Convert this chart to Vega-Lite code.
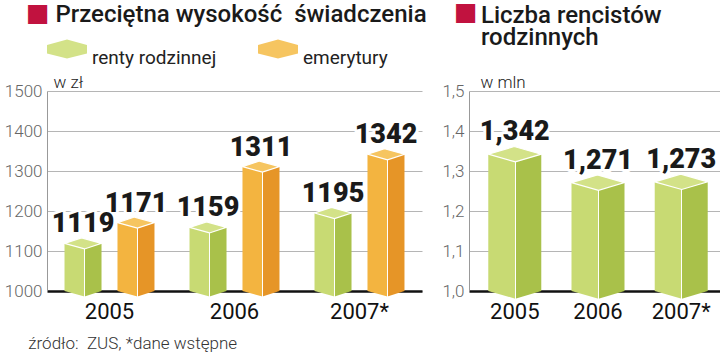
{
  "$schema": "https://vega.github.io/schema/vega-lite/v6.json",
  "padding": {"left": 4, "top": 0, "right": 0, "bottom": 0},
  "background": "white",
  "config": {
    "locale": {"number": {"decimal": ",", "thousands": "\u00a0", "grouping": [3], "currency": ["", " zł"]}},
    "view": {"stroke": null},
    "font": "Roboto",
    "concat": {"spacing": 14}
  },
  "datasets": {
    "kwoty": [
      {"rok": "2005", "seria": "renty rodzinnej", "wartosc": 1119},
      {"rok": "2005", "seria": "emerytury", "wartosc": 1171},
      {"rok": "2006", "seria": "renty rodzinnej", "wartosc": 1159},
      {"rok": "2006", "seria": "emerytury", "wartosc": 1311},
      {"rok": "2007*", "seria": "renty rodzinnej", "wartosc": 1195},
      {"rok": "2007*", "seria": "emerytury", "wartosc": 1342}
    ],
    "liczba": [
      {"rok": "2005", "wartosc": 1.342},
      {"rok": "2006", "wartosc": 1.271},
      {"rok": "2007*", "wartosc": 1.273}
    ]
  },
  "title": {
    "text": "źródło:\u00a0 ZUS, *dane wstępne",
    "orient": "bottom",
    "anchor": "start",
    "frame": "bounds",
    "dx": 24,
    "offset": 14,
    "fontSize": 17,
    "fontWeight": 300,
    "font": "Roboto",
    "color": "#333"
  },
  "hconcat": [
    {
      "width": 375,
      "height": 200,
      "data": {"name": "kwoty"},
      "title": {
        "text": "\u200b\u2003\u2009Przeciętna wysokość\u00a0 świadczenia",
        "subtitle": "■",
        "anchor": "start",
        "frame": "group",
        "dx": -21,
        "offset": 44,
        "font": "Roboto",
        "fontSize": 24,
        "fontWeight": 500,
        "color": "#1a1a1a",
        "subtitleFont": "DejaVu Sans",
        "subtitleFontSize": 25,
        "subtitleColor": "#c1123f",
        "subtitlePadding": -26
      },
      "encoding": {
        "x": {
          "field": "rok", "type": "nominal",
          "scale": {"domain": ["2005", "2006", "2007*"], "paddingInner": 0, "paddingOuter": 0},
          "axis": {"title": null, "labelAngle": 0, "labelFont": "Roboto", "labelFontSize": 22, "labelColor": "#111", "labelPadding": 10, "ticks": false, "domainColor": "#111", "domainWidth": 2.5}
        },
        "xOffset": {
          "field": "seria", "type": "nominal",
          "scale": {"domain": ["renty rodzinnej", "emerytury"], "paddingInner": 0, "paddingOuter": 0.18}
        },
        "y": {
          "field": "wartosc", "type": "quantitative",
          "scale": {"domain": [1000, 1500], "zero": false, "nice": false},
          "axis": {"title": "w zł", "titleAngle": 0, "titleAlign": "left", "titleBaseline": "alphabetic", "titleX": 6, "titleY": -4, "titleFont": "Roboto", "titleFontSize": 17, "titleFontWeight": 300, "titleColor": "#222", "values": [1000, 1100, 1200, 1300, 1400, 1500], "format": "d", "labelFont": "Roboto", "labelFontSize": 17, "labelFontWeight": 300, "labelColor": "#666", "labelPadding": 5, "ticks": false, "domainColor": "#999", "gridColor": "#b5b5b5", "gridWidth": 1}
        }
      },
      "layer": [
        {
          "transform": [{"filter": "datum.seria === 'renty rodzinnej'"}],
          "mark": {"type": "bar", "width": 37, "fill": {"gradient": "linear", "stops": [{"offset": 0, "color": "#c8da73"}, {"offset": 0.535, "color": "#c8da73"}, {"offset": 0.535, "color": "#ffffff"}, {"offset": 0.565, "color": "#ffffff"}, {"offset": 0.565, "color": "#a9c14a"}, {"offset": 1, "color": "#a9c14a"}]}},
          "encoding": {"y2": {"datum": 1000}}
        },
        {
          "transform": [{"filter": "datum.seria === 'emerytury'"}],
          "mark": {"type": "bar", "width": 37, "fill": {"gradient": "linear", "stops": [{"offset": 0, "color": "#f3b440"}, {"offset": 0.535, "color": "#f3b440"}, {"offset": 0.535, "color": "#ffffff"}, {"offset": 0.565, "color": "#ffffff"}, {"offset": 0.565, "color": "#e69527"}, {"offset": 1, "color": "#e69527"}]}},
          "encoding": {"y2": {"datum": 1000}}
        },
        {
          "transform": [{"filter": "datum.seria === 'renty rodzinnej'"}],
          "mark": {"type": "point", "shape": "M-1,0L0.08,0.3L1,0L-0.08,-0.3Z", "size": 1369, "filled": true, "opacity": 1, "strokeWidth": 0, "fill": {"gradient": "linear", "stops": [{"offset": 0, "color": "#c8da73"}, {"offset": 0.535, "color": "#c8da73"}, {"offset": 0.535, "color": "#ffffff"}, {"offset": 0.565, "color": "#ffffff"}, {"offset": 0.565, "color": "#a9c14a"}, {"offset": 1, "color": "#a9c14a"}]}},
          "encoding": {"y": {"datum": 1000}}
        },
        {
          "transform": [{"filter": "datum.seria === 'emerytury'"}],
          "mark": {"type": "point", "shape": "M-1,0L0.08,0.3L1,0L-0.08,-0.3Z", "size": 1369, "filled": true, "opacity": 1, "strokeWidth": 0, "fill": {"gradient": "linear", "stops": [{"offset": 0, "color": "#f3b440"}, {"offset": 0.535, "color": "#f3b440"}, {"offset": 0.535, "color": "#ffffff"}, {"offset": 0.565, "color": "#ffffff"}, {"offset": 0.565, "color": "#e69527"}, {"offset": 1, "color": "#e69527"}]}},
          "encoding": {"y": {"datum": 1000}}
        },
        {
          "mark": {"type": "point", "shape": "M-1,0L0.08,0.3L1,0L-0.08,-0.3Z", "size": 1369, "filled": true, "opacity": 1, "stroke": "white", "strokeWidth": 1.2},
          "encoding": {
            "color": {
              "field": "seria", "type": "nominal",
              "scale": {"domain": ["renty rodzinnej", "emerytury"], "range": ["#d3e288", "#f6c560"]},
              "legend": {"title": null, "orient": "none", "legendX": 0, "legendY": -62, "direction": "horizontal", "symbolType": "M-1,-0.2L0,-0.47L1,-0.2L1,0.22L0,0.47L-1,0.22Z", "symbolSize": 1600, "symbolStrokeWidth": 0, "symbolOpacity": 1, "labelFont": "Roboto", "labelFontSize": 19, "labelColor": "#222", "labelBaseline": "top", "columnPadding": 41, "labelOffset": 5, "padding": 0}
            }
          }
        },
        {
          "mark": {"type": "text", "dy": -11, "baseline": "alphabetic", "font": "Roboto", "fontSize": 27, "fontWeight": 900, "fill": "white", "stroke": "white", "strokeWidth": 6, "strokeJoin": "round"},
          "encoding": {"text": {"field": "wartosc", "type": "quantitative", "format": "d"}}
        },
        {
          "mark": {"type": "text", "dy": -11, "baseline": "alphabetic", "font": "Roboto", "fontSize": 27, "fontWeight": 900, "fill": "#1a1a1a"},
          "encoding": {"text": {"field": "wartosc", "type": "quantitative", "format": "d"}}
        }
      ]
    },
    {
      "width": 258,
      "height": 200,
      "data": {"name": "liczba"},
      "title": {
        "text": ["\u200b\u2003\u200aLiczba rencistów", "\u200b\u2003\u200arodzinnych"],
        "subtitle": "■",
        "anchor": "start",
        "frame": "group",
        "dx": -15,
        "offset": 19,
        "font": "Roboto",
        "fontSize": 24,
        "lineHeight": 22,
        "fontWeight": 500,
        "color": "#1a1a1a",
        "subtitleFont": "DejaVu Sans",
        "subtitleFontSize": 25,
        "subtitleColor": "#c1123f",
        "subtitlePadding": -50
      },
      "encoding": {
        "x": {
          "field": "rok", "type": "nominal",
          "scale": {"domain": ["2005", "2006", "2007*"], "paddingInner": 0, "paddingOuter": 0.05},
          "axis": {"title": null, "labelAngle": 0, "labelFont": "Roboto", "labelFontSize": 22, "labelColor": "#111", "labelPadding": 10, "ticks": false, "domainColor": "#111", "domainWidth": 2.5}
        },
        "y": {
          "field": "wartosc", "type": "quantitative",
          "scale": {"domain": [1, 1.5], "zero": false, "nice": false},
          "axis": {"title": "w mln", "titleAngle": 0, "titleAlign": "left", "titleBaseline": "alphabetic", "titleX": 11, "titleY": -4, "titleFont": "Roboto", "titleFontSize": 17, "titleFontWeight": 300, "titleColor": "#222", "values": [1, 1.1, 1.2, 1.3, 1.4, 1.5], "format": ".1f", "labelFont": "Roboto", "labelFontSize": 17, "labelFontWeight": 300, "labelColor": "#666", "labelPadding": 5, "ticks": false, "domainColor": "#999", "gridColor": "#b5b5b5", "gridWidth": 1}
        }
      },
      "layer": [
        {
          "mark": {"type": "bar", "width": 53, "fill": {"gradient": "linear", "stops": [{"offset": 0, "color": "#c8da73"}, {"offset": 0.5, "color": "#c8da73"}, {"offset": 0.5, "color": "#ffffff"}, {"offset": 0.522, "color": "#ffffff"}, {"offset": 0.522, "color": "#a9c14a"}, {"offset": 1, "color": "#a9c14a"}]}},
          "encoding": {"y2": {"datum": 1}}
        },
        {
          "mark": {"type": "point", "shape": "M-1,0L0.02,0.29L1,0L-0.02,-0.29Z", "size": 2809, "filled": true, "opacity": 1, "strokeWidth": 0, "fill": {"gradient": "linear", "stops": [{"offset": 0, "color": "#c8da73"}, {"offset": 0.5, "color": "#c8da73"}, {"offset": 0.5, "color": "#ffffff"}, {"offset": 0.522, "color": "#ffffff"}, {"offset": 0.522, "color": "#a9c14a"}, {"offset": 1, "color": "#a9c14a"}]}},
          "encoding": {"y": {"datum": 1}}
        },
        {
          "mark": {"type": "point", "shape": "M-1,0L0.02,0.29L1,0L-0.02,-0.29Z", "size": 2809, "filled": true, "opacity": 1, "fill": "#d3e288", "stroke": "white", "strokeWidth": 1.2}
        },
        {
          "mark": {"type": "text", "dy": -14, "baseline": "alphabetic", "font": "Roboto", "fontSize": 27, "fontWeight": 900, "fill": "white", "stroke": "white", "strokeWidth": 6, "strokeJoin": "round"},
          "encoding": {"text": {"field": "wartosc", "type": "quantitative", "format": ".3f"}}
        },
        {
          "mark": {"type": "text", "dy": -14, "baseline": "alphabetic", "font": "Roboto", "fontSize": 27, "fontWeight": 900, "fill": "#1a1a1a"},
          "encoding": {"text": {"field": "wartosc", "type": "quantitative", "format": ".3f"}}
        }
      ]
    }
  ]
}
